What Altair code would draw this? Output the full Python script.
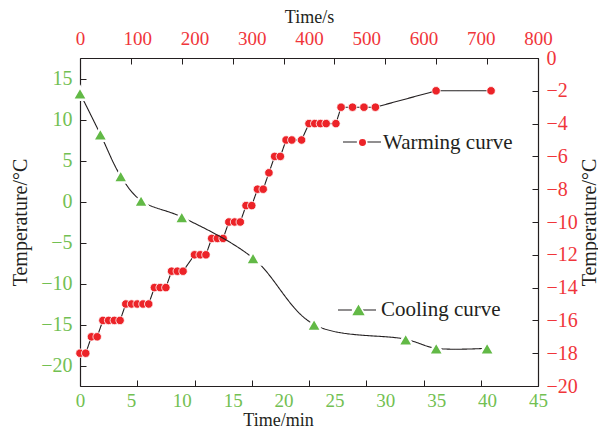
import altair as alt
import pandas as pd

# ---- data ----
cool_min = [0, 2, 4, 6, 10, 17, 23, 32, 35, 40]
cool_temp = [13.2, 8.2, 3.1, 0.1, -1.9, -6.9, -15.0, -16.8, -17.9, -17.9]

warm_s = [0, 10, 20, 30, 40, 50, 60, 70, 80, 90, 100, 110, 120, 130, 140, 150,
          160, 170, 180, 200, 210, 220, 230, 240, 250, 260, 270, 280, 290, 300,
          310, 320, 330, 340, 350, 360, 370, 387, 400, 410, 420, 430, 447,
          456, 476, 496, 516, 622, 718]
warm_temp = [-18, -18, -17, -17, -16, -16, -16, -16, -15, -15, -15, -15, -15,
             -14, -14, -14, -13, -13, -13, -12, -12, -12, -11, -11, -11,
             -10, -10, -10, -9, -9, -8, -8, -7, -6, -6, -5, -5, -5,
             -4, -4, -4, -4, -4, -3, -3, -3, -3, -2, -2]

min_ticks = list(range(0, 50, 5))
left_ticks = list(range(-20, 20, 5))
s_ticks = list(range(0, 900, 100))
right_ticks = list(range(-20, 1, 2))

GREEN = "#62b946"
GREEN_LBL = "#72c052"
RED = "#ec2328"
RED_LBL = "#f0353a"
INK = "#231f20"
FONT = "Liberation Serif"

W, H = 458, 328

cool_df = pd.DataFrame({"t": cool_min, "temp": cool_temp,
                        "cpt": "Cooling curve", "cln": "Cooling line"})
warm_df = pd.DataFrame({"s": warm_s, "temp": warm_temp,
                        "wpt": "Warming curve", "wln": "Warming line"})


def frame_axis(orient, values, color, title, lpad, tx, ty, lsize, tsize, angle=0):
    return alt.Axis(orient=orient, values=values, labelColor=color, title=title,
                    grid=True, gridDash=[6, 3000], gridColor=INK, gridWidth=1,
                    gridOpacity=1, ticks=False, domainColor=INK, domainWidth=1.2,
                    labelFont=FONT, labelFontSize=lsize, titleFont=FONT,
                    titleFontSize=tsize, titleFontWeight="normal", titleColor=INK,
                    labelPadding=lpad, labelFlush=False, labelOverlap=False,
                    titleX=tx, titleY=ty, titleAngle=angle, titleAlign="center",
                    titleBaseline="middle")


x_min = alt.X("t:Q", scale=alt.Scale(domain=[0, 45], nice=False, zero=False),
              axis=frame_axis("bottom", min_ticks, GREEN_LBL, "Time/min", 5, 198, 34, 19, 18))
y_left = alt.Y("temp:Q", scale=alt.Scale(domain=[-22.5, 17.5], nice=False, zero=False),
               axis=frame_axis("left", left_ticks, GREEN_LBL, "Temperature/°C", 8, -60, H / 2, 20, 20, 270))
x_s = alt.X("s:Q", scale=alt.Scale(domain=[0, 800], nice=False, zero=False),
            axis=frame_axis("top", s_ticks, RED_LBL, "Time/s", 10, W / 2, -41, 19, 18))
y_right = alt.Y("temp:Q", scale=alt.Scale(domain=[-20, 0], nice=False, zero=False),
                axis=frame_axis("right", right_ticks, RED_LBL, "Temperature/°C", 8, 51, H / 2, 20, 20, 270))

LINE_PATH = "M-1,0H-0.27M0.27,0H1"


def line_legend(x, y):
    return alt.Legend(orient="none", legendX=x, legendY=y, title=None,
                      symbolType=LINE_PATH, symbolSize=1444, symbolStrokeColor=INK,
                      symbolStrokeWidth=1.2, labelExpr="''", padding=0)


def pt_legend(x, y, shape, size, off):
    return alt.Legend(orient="none", legendX=x, legendY=y, title=None,
                      symbolType=shape, symbolSize=size, labelFont=FONT,
                      labelFontSize=21, labelColor=INK, labelOffset=off, padding=0)


warm_line = alt.Chart(warm_df).mark_line(color=INK, strokeWidth=1.1).encode(
    x=x_s, y=y_right,
    strokeDash=alt.StrokeDash("wln:N", scale=alt.Scale(domain=["Warming line"], range=[[1, 0]]),
                              legend=line_legend(262, 64)))
warm_pts = alt.Chart(warm_df).mark_point(shape="circle", filled=True, size=72, opacity=1,
                                         stroke="white", strokeWidth=0.8).encode(
    x=x_s, y=y_right,
    color=alt.Color("wpt:N", scale=alt.Scale(domain=["Warming curve"], range=[RED]),
                    legend=pt_legend(272, 74, "circle", 72, 10)))

cool_line = alt.Chart(cool_df).mark_line(interpolate="catmull-rom", color=INK,
                                         strokeWidth=1.1).encode(
    x=x_min, y=y_left,
    strokeDash=alt.StrokeDash("cln:N", scale=alt.Scale(domain=["Cooling line"], range=[[1, 0]]),
                              legend=line_legend(257, 232)))
cool_pts = alt.Chart(cool_df).mark_point(shape="triangle-up", filled=True, size=220, opacity=1,
                                         stroke="white", strokeWidth=2.5).encode(
    x=x_min, y=y_left,
    color=alt.Color("cpt:N", scale=alt.Scale(domain=["Cooling curve"], range=[GREEN]),
                    legend=pt_legend(268, 241, "triangle-up", 220, 12)))

warm = alt.layer(warm_line, warm_pts)
cool = alt.layer(cool_line, cool_pts)

chart = alt.layer(warm, cool).resolve_scale(
    x="independent", y="independent", color="independent", strokeDash="independent"
).properties(
    width=W, height=H,
    padding={"left": 72, "top": 50, "right": 60, "bottom": 45},
    autosize=alt.AutoSizeParams(type="none"),
).configure_view(stroke="transparent").configure(background="white")

chart.save("out.html", embed_options={"renderer": "svg", "actions": False})
